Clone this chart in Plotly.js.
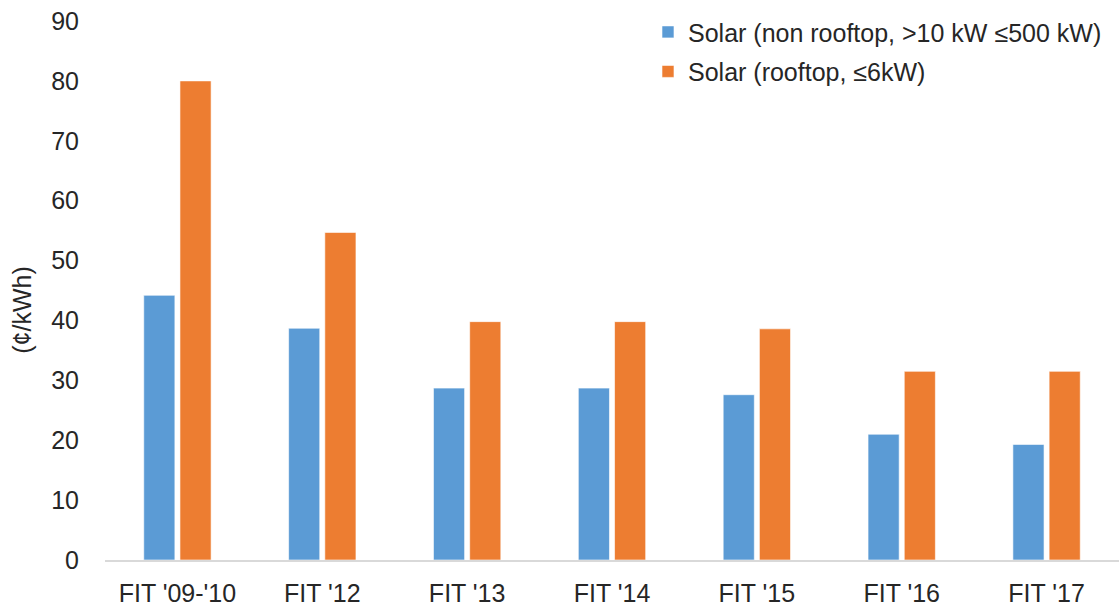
<!DOCTYPE html>
<html>
<head>
<meta charset="utf-8">
<script src="https://cdn.plot.ly/plotly-3.0.1.min.js"></script>
<style>html,body{margin:0;padding:0;background:#fff;}#chart{width:1119px;height:607px;}</style>
</head>
<body>
<div id="chart"></div>
<script>
const categories = ["FIT '09-'10", "FIT '12", "FIT '13", "FIT '14", "FIT '15", "FIT '16", "FIT '17"];
const nonRooftop = [44.2, 38.7, 28.7, 28.7, 27.6, 21.0, 19.3];
const rooftop = [80.0, 54.7, 39.8, 39.8, 38.6, 31.5, 31.5];
const seriesNames = ["Solar (non rooftop, >10 kW \u2264500 kW)", "Solar (rooftop, \u22646kW)"];
const yTicks = [0, 10, 20, 30, 40, 50, 60, 70, 80, 90];

const FONT = "Liberation Sans, Arial, sans-serif";
const TXT = "#262626";
const FS = 25;

const traces = [
  {type: 'bar', x: categories, y: nonRooftop, name: seriesNames[0], legendgroup: 'a',
   marker: {color: '#5B9BD5', line: {color: 'rgba(255,255,255,0.6)', width: 1}}, hoverinfo: 'skip'},
  {type: 'bar', x: categories, y: rooftop, name: seriesNames[1], legendgroup: 'b',
   marker: {color: '#ED7D31', line: {color: 'rgba(255,255,255,0.6)', width: 1}}, hoverinfo: 'skip'}
];

const layout = {
  width: 1119, height: 607,
  margin: {l: 105, r: 0, t: 21, b: 47},
  paper_bgcolor: '#ffffff', plot_bgcolor: '#ffffff',
  font: {family: FONT, size: FS, color: TXT},
  barmode: 'group', bargap: 0.5, bargroupgap: 0.14,
  showlegend: true,
  legend: {x: 0.5355, xanchor: 'left', y: 1.022, yanchor: 'top', bgcolor: 'rgba(0,0,0,0)',
           font: {family: FONT, size: FS, color: TXT}, traceorder: 'grouped', tracegroupgap: 4},
  xaxis: {type: 'category', showgrid: false, zeroline: false, showline: true, linecolor: '#d9d9d9', linewidth: 2,
          ticks: 'outside', ticklen: 10, tickcolor: 'rgba(0,0,0,0)', tickfont: {family: FONT, size: FS, color: TXT}},
  yaxis: {range: [0, 90], tickvals: yTicks, ticktext: yTicks.map(String), showgrid: false, zeroline: false, showline: false,
          ticks: 'outside', ticklen: 20, tickcolor: 'rgba(0,0,0,0)', tickfont: {family: FONT, size: FS, color: TXT}},
  annotations: [{text: "(\u00a2/kWh)", xref: 'paper', yref: 'paper', x: -0.082, y: 0.464, xanchor: 'center', yanchor: 'middle',
                 textangle: -90, showarrow: false, font: {family: FONT, size: FS, color: TXT}}]
};

Plotly.newPlot('chart', traces, layout, {displayModeBar: false, staticPlot: true});
</script>
</body>
</html>
